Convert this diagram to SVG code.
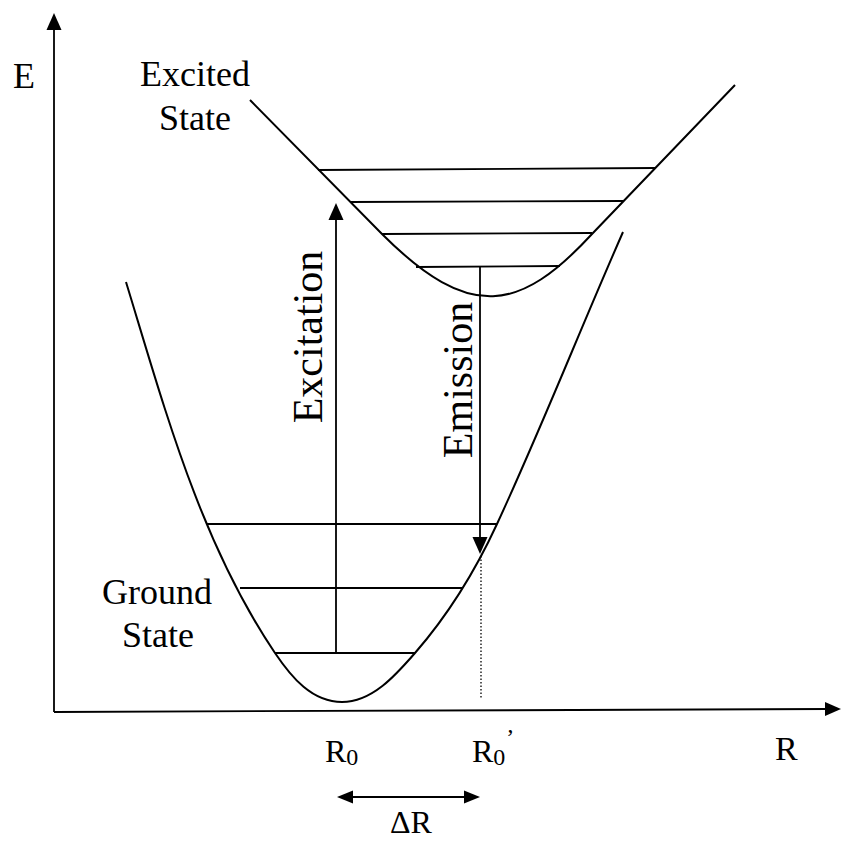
<svg xmlns="http://www.w3.org/2000/svg" width="841" height="849" viewBox="0 0 841 849">
<style>
.t{font-family:"Liberation Serif","Times New Roman",serif;fill:#000}
.ln{stroke:#000;stroke-width:1.8;fill:none}
.cv{stroke:#000;stroke-width:2;fill:none;stroke-linejoin:round}
.ah{fill:#000}
</style>
<rect width="841" height="849" fill="#fff"/>
<g id="axes">
<line class="ln" x1="54" y1="28" x2="54" y2="712"/>
<polygon class="ah" points="54,13 46.5,30 61.5,30"/>
<line class="ln" x1="54" y1="712" x2="828" y2="709"/>
<polygon class="ah" points="841,709 825,702 825,716"/>
<text class="t" x="13" y="88" font-size="36">E</text>
<text class="t" x="775" y="760" font-size="34">R</text>
</g>
<g id="excited-state">
<path class="cv" d="M250,100 L382,234 C470,322 520,312 592,234 L735,85"/>
<line class="ln" x1="318" y1="170" x2="655" y2="168"/>
<line class="ln" x1="350" y1="202" x2="623" y2="201"/>
<line class="ln" x1="382" y1="234" x2="592" y2="233"/>
<line class="ln" x1="416" y1="267" x2="560" y2="266"/>
<text class="t" x="140" y="86" font-size="36">Excited</text>
<text class="t" x="159" y="130" font-size="36">State</text>
</g>
<g id="ground-state">
<path class="cv" d="M126,282 C165,409.5 200.3,542.3 275,653 C291.8,677.9 312,702 342,702 C372,702 395.3,675.7 415,653 C448.5,614.5 475.6,570.3 497,524 C541.5,427.9 580.3,329 623,232"/>
<line class="ln" x1="207" y1="524" x2="497" y2="524"/>
<line class="ln" x1="240" y1="588" x2="463" y2="588"/>
<line class="ln" x1="275" y1="653" x2="415" y2="653"/>
<text class="t" x="102" y="604" font-size="36">Ground</text>
<text class="t" x="122" y="647" font-size="36">State</text>
</g>
<g id="connectors">
<g id="excitation">
<line class="ln" x1="336" y1="653" x2="336" y2="218"/>
<polygon class="ah" points="336,203 328.5,220 343.5,220"/>
<text class="t" font-size="42" text-anchor="middle" transform="translate(322,337) rotate(-90)">Excitation</text>
</g>
<g id="emission">
<line class="ln" x1="480" y1="267" x2="480" y2="540"/>
<polygon class="ah" points="480,554 472.5,537 487.5,537"/>
<text class="t" font-size="42" text-anchor="middle" transform="translate(472,380) rotate(-90)">Emission</text>
</g>
<line x1="481" y1="556" x2="481" y2="698" stroke="#000" stroke-width="1.3" stroke-dasharray="1.5 2"/>
<g id="delta-r">
<line class="ln" x1="350" y1="797" x2="466" y2="797"/>
<polygon class="ah" points="337,797 353,790.5 353,803.5"/>
<polygon class="ah" points="480,797 464,790.5 464,803.5"/>
</g>
</g>
<g id="labels">
<text class="t" x="325" y="762" font-size="32">R<tspan font-size="24" dy="3">0</tspan></text>
<text class="t" x="472" y="762" font-size="32">R<tspan font-size="24" dy="3">0</tspan><tspan font-size="24" dx="1" dy="-20">’</tspan></text>
<text class="t" x="390" y="833" font-size="32">ΔR</text>
</g>
</svg>
